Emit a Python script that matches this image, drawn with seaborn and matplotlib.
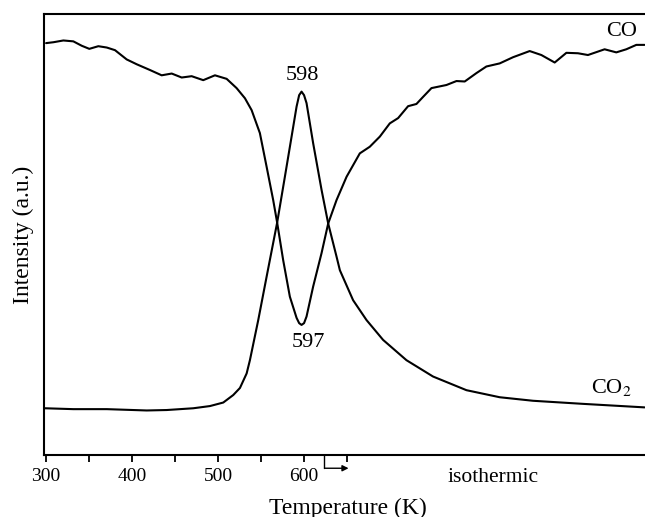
import numpy as np
import pandas as pd
import matplotlib.pyplot as plt
import seaborn as sns

# ---- data ----
co_temp = [300.0, 308.5, 320.1, 331.7, 341.5, 350.3, 360.8, 370.6, 380.2, 393.8,
           405.5, 420.9, 434.5, 446.2, 457.8, 469.4, 482.9, 496.5, 510.1, 521.7,
           531.4, 539.2, 548.8, 556.6, 564.3, 568.9, 575.9, 583.7, 591.5, 594.5,
           597.3, 600.2, 603.1, 610.8, 620.6, 628.3, 638.0, 649.7, 665.1, 676.7,
           688.4, 700.0, 709.7, 721.3, 731.0, 738.7, 748.5, 765.9, 777.6, 787.2,
           800.8, 812.4, 827.9, 843.4, 862.8, 876.4, 891.9, 905.5, 919.0, 930.6,
           950.0, 963.6, 975.2, 986.9, 996.5]
co_int = [93.4, 93.6, 94.0, 93.8, 92.8, 92.1, 92.7, 92.4, 91.8, 89.7,
          88.6, 87.3, 86.1, 86.5, 85.6, 85.9, 85.0, 86.1, 85.3, 83.2,
          80.9, 78.2, 73.0, 65.4, 57.8, 52.7, 44.2, 35.9, 31.1, 29.9,
          29.5, 29.9, 31.4, 38.2, 45.8, 52.5, 57.8, 63.1, 68.4, 69.9,
          72.2, 75.2, 76.4, 79.1, 79.6, 81.2, 83.2, 83.9, 84.8, 84.7,
          86.6, 88.1, 88.8, 90.2, 91.6, 90.7, 89.0, 91.2, 91.1, 90.7,
          92.0, 91.3, 92.0, 93.0, 93.0]

co2_temp = [298.8, 331.7, 370.6, 417.1, 440.3, 471.3, 490.7, 506.2, 517.8, 525.6,
            533.4, 537.2, 546.9, 556.6, 568.9, 577.9, 585.7, 591.5, 594.5, 597.3,
            600.2, 603.1, 610.8, 620.6, 628.3, 638.0, 641.9, 657.3, 672.9, 692.2,
            719.4, 750.3, 789.2, 827.9, 866.6, 924.8, 996.5]
co2_int = [10.6, 10.4, 10.4, 10.1, 10.2, 10.6, 11.1, 11.9, 13.6, 15.2,
           18.5, 21.5, 30.6, 40.4, 52.7, 63.1, 72.2, 79.0, 81.6, 82.4,
           81.6, 79.8, 70.7, 60.1, 52.5, 45.0, 41.9, 35.1, 30.6, 26.1,
           21.5, 17.8, 14.7, 13.1, 12.3, 11.6, 10.8]

major_ticks = [300, 400, 500, 600]
minor_ticks = [350, 450, 550, 650]

df_co = pd.DataFrame({"temp": co_temp, "intensity": co_int})
df_co2 = pd.DataFrame({"temp": co2_temp, "intensity": co2_int})

# ---- style ----
sns.set_theme(style="ticks")
plt.rcParams["font.family"] = ["Liberation Serif", "DejaVu Serif"]
plt.rcParams["mathtext.fontset"] = "stix"
plt.rcParams["text.color"] = "black"
plt.rcParams["axes.labelcolor"] = "black"
plt.rcParams["xtick.color"] = "black"

fig = plt.figure(figsize=(6.45, 5.17), dpi=100)
ax = fig.add_axes([0.0688, 0.1199, 0.9312, 0.853])

sns.lineplot(data=df_co, x="temp", y="intensity", color="black", linewidth=1.5,
             ax=ax, sort=False)
sns.lineplot(data=df_co2, x="temp", y="intensity", color="black", linewidth=1.5,
             ax=ax, sort=False)

ax.set_xlim(298, 997)
ax.set_ylim(0, 100)

for s in ["left", "bottom", "top"]:
    ax.spines[s].set_linewidth(1.5)
    ax.spines[s].set_color("black")
ax.spines["right"].set_visible(False)

ax.set_yticks([])
ax.set_xticks(major_ticks)
ax.set_xticks(minor_ticks, minor=True)
ax.tick_params(axis="x", which="both", direction="out", length=5, width=1.3,
               color="black", labelsize=14, pad=4, labelcolor="black")

ax.set_xlabel("Temperature (K)", fontsize=17, color="black")
ax.set_ylabel("Intensity (a.u.)", fontsize=17, color="black")
ax.xaxis.set_label_coords(0.506, -0.096)
ax.yaxis.set_label_coords(-0.017, 0.5)

# peak labels and curve names
ax.text(598, 86.0, "598", ha="center", va="center", fontsize=16)
ax.text(605, 25.4, "597", ha="center", va="center", fontsize=16)
ax.text(970, 96.0, "CO", ha="center", va="center", fontsize=16)
ax.text(958, 15.2, "CO$_2$", ha="center", va="center", fontsize=16)

# isothermic marker below the axis
trans = ax.get_xaxis_transform()
ax.plot([624, 624], [0, -0.03], color="black", linewidth=1.0,
        transform=trans, clip_on=False)
ax.annotate("", xy=(652, -0.03), xytext=(624, -0.03), xycoords=trans,
            textcoords=trans,
            arrowprops=dict(arrowstyle="-|>", color="black", lw=1.0,
                            mutation_scale=9, shrinkA=0, shrinkB=0),
            annotation_clip=False)
ax.text(820, -0.052, "isothermic", transform=trans, ha="center", va="center",
        fontsize=15.5)

fig.savefig("out.png", dpi=100)
